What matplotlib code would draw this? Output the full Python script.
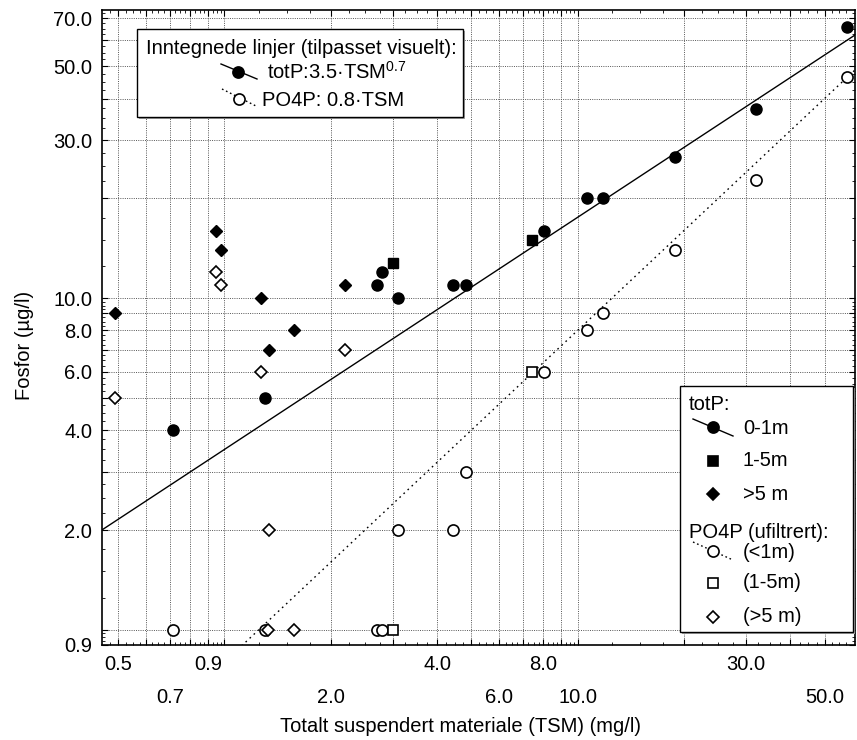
import matplotlib
matplotlib.use("Agg")
import matplotlib.pyplot as plt
import numpy as np
from matplotlib.lines import Line2D
from matplotlib.patches import Rectangle
from matplotlib.ticker import FixedLocator, FuncFormatter, NullFormatter

plt.rcParams["font.family"] = ["Liberation Sans", "DejaVu Sans"]
plt.rcParams["mathtext.fontset"] = "custom"
plt.rcParams["mathtext.rm"] = "Liberation Sans"

FS = 14.5

# TSM (mg/l) and phosphorus (µg/l), grouped by sampling depth
tsm_0_1 = [0.717, 1.30, 2.70, 2.80, 3.09, 4.45, 4.82, 8.01, 10.6, 11.8, 18.9, 31.9, 57.8]
totp_0_1 = [4.0, 5.0, 11.0, 12.0, 10.0, 11.0, 11.0, 16.0, 20.0, 20.0, 26.6, 37.3, 65.9]
po4p_0_1 = [1.0, 1.0, 1.0, 1.0, 2.0, 2.0, 3.0, 6.0, 8.0, 9.0, 14.0, 22.7, 46.4]

tsm_1_5 = [3.01, 7.41]
totp_1_5 = [12.8, 15.0]
po4p_1_5 = [1.0, 6.0]

tsm_5_totp = [0.491, 0.949, 0.98, 1.265, 1.34, 1.57, 2.19]
totp_5 = [9.0, 16.0, 14.0, 10.0, 7.0, 8.0, 11.0]
tsm_5_po4p = [0.491, 0.949, 0.98, 1.265, 1.33, 1.34, 1.57, 2.19]
po4p_5 = [5.0, 12.0, 11.0, 6.0, 1.0, 2.0, 1.0, 7.0]

# visually fitted lines (from legend): totP = 3.5*TSM^0.7, PO4P = 0.8*TSM
totp_coef, totp_exp = 3.5, 0.7
po4p_coef = 0.8

# axes setup
x_lim = (0.45, 61.0)
y_lim = (0.9, 74.0)
x_grid = [0.5, 0.6, 0.7, 0.8, 0.9, 1, 2, 3, 4, 5, 6, 7, 8, 9, 10, 20, 30, 40, 50]
y_grid = [1, 2, 3, 4, 5, 6, 7, 8, 9, 10, 20, 30, 40, 50, 60, 70]
x_labels_row1 = [0.5, 0.9, 4, 8, 30]
x_labels_row2 = [0.7, 2, 6, 10, 50]
y_labels = [0.9, 2, 4, 6, 8, 10, 30, 50, 70]

fig = plt.figure(figsize=(8.57, 7.40), dpi=100)
L, R, T, B = 102, 855, 10, 645
W, H = 857, 740
ax = fig.add_axes([L / W, 1 - B / H, (R - L) / W, (B - T) / H])
ax.set_xscale("log")
ax.set_yscale("log")
ax.set_xlim(*x_lim)
ax.set_ylim(*y_lim)

# fitted lines
xx = np.geomspace(x_lim[0], x_lim[1], 200)
ax.plot(xx, totp_coef * xx ** totp_exp, color="black", lw=1.0, zorder=3)
ax.plot(xx, po4p_coef * xx, color="black", lw=1.0, ls=(0, (1.2, 2.8)), zorder=3)

# data
kw_open = dict(ls="none", mfc="white", mec="black", mew=1.2, zorder=4)
kw_fill = dict(ls="none", mfc="black", mec="black", zorder=5)
ax.plot(tsm_0_1, po4p_0_1, marker="o", ms=8, **kw_open)
ax.plot(tsm_1_5, po4p_1_5, marker="s", ms=7, **kw_open)
ax.plot(tsm_5_po4p, po4p_5, marker="D", ms=6.5, **kw_open)
ax.plot(tsm_0_1, totp_0_1, marker="o", ms=8, **kw_fill)
ax.plot(tsm_1_5, totp_1_5, marker="s", ms=7.5, **kw_fill)
ax.plot(tsm_5_totp, totp_5, marker="D", ms=5.8, **kw_fill)

# ticks / grid
def minor_vals(lo, hi):
    out = []
    for d in (0.1, 1, 10, 100):
        for k in np.arange(1, 10, 0.25):
            v = d * k
            if lo < v < hi and abs(k - round(k)) > 1e-9:
                out.append(v)
    return out

ax.xaxis.set_major_locator(FixedLocator(x_grid))
ax.yaxis.set_major_locator(FixedLocator(sorted(set(y_grid + y_labels))))
ax.xaxis.set_minor_locator(FixedLocator(minor_vals(*x_lim)))
ax.yaxis.set_minor_locator(FixedLocator(minor_vals(*y_lim)))
ax.xaxis.set_minor_formatter(NullFormatter())
ax.yaxis.set_minor_formatter(NullFormatter())


def fmt_x(v, pos):
    for lab in x_labels_row1:
        if abs(v - lab) < 1e-9:
            return f"{lab:.1f}"
    for lab in x_labels_row2:
        if abs(v - lab) < 1e-9:
            return f"\n{lab:.1f}"
    return ""


def fmt_y(v, pos):
    for lab in y_labels:
        if abs(v - lab) < 1e-9:
            return f"{lab:.1f}"
    return ""


ax.xaxis.set_major_formatter(FuncFormatter(fmt_x))
ax.yaxis.set_major_formatter(FuncFormatter(fmt_y))
ax.tick_params(which="both", direction="in", top=True, right=True, color="black")
ax.tick_params(which="major", length=4, width=0.8, labelsize=FS)
ax.tick_params(which="minor", length=2.5, width=0.6)
ax.tick_params(axis="x", which="major", pad=7)
ax.tick_params(axis="y", which="major", pad=7)
for t in ax.get_xticklabels():
    t.set_linespacing(1.95)

ax.grid(True, which="major", color="#555555", lw=0.7, ls=(0, (1, 1.3)))
ax.set_axisbelow(True)
for s in ax.spines.values():
    s.set_color("black")
    s.set_linewidth(1.2)

fig.text(460 / W, 1 - 726 / H, "Totalt suspendert materiale (TSM) (mg/l)",
         ha="center", va="center", fontsize=FS)
fig.text(24 / W, 1 - 345 / H, "Fosfor (µg/l)", rotation=90,
         ha="center", va="center", fontsize=FS)


# hand-placed legends (pixel layout -> axes fraction)
def pa(px, py):
    return (px - L) / (R - L), (B - py) / (B - T)


def box(x0, y0, x1, y1):
    ax0, ay1 = pa(x0, y0)
    ax1, ay0 = pa(x1, y1)
    sh = Rectangle((ax0 + 0.002, ay0 - 0.003), ax1 - ax0, ay1 - ay0, transform=ax.transAxes,
                   facecolor="#a0a0a0", edgecolor="none", zorder=8, clip_on=False)
    ax.add_patch(sh)
    r = Rectangle((ax0, ay0), ax1 - ax0, ay1 - ay0, transform=ax.transAxes,
                  facecolor="white", edgecolor="black", lw=1.0, zorder=9, clip_on=False)
    ax.add_patch(r)


def txt(px, py, s):
    x, y = pa(px, py)
    ax.text(x, y, s, transform=ax.transAxes, ha="left", va="center",
            fontsize=FS, zorder=11)


def sample(p0, p1, ls):
    (x0, y0), (x1, y1) = pa(*p0), pa(*p1)
    ax.add_line(Line2D([x0, x1], [y0, y1], transform=ax.transAxes, color="black",
                       lw=1.0, ls=ls, zorder=10, clip_on=False))


def mark(px, py, m, ms, filled):
    x, y = pa(px, py)
    ax.add_line(Line2D([x], [y], transform=ax.transAxes, marker=m, ms=ms, ls="none",
                       mfc="black" if filled else "white", mec="black",
                       mew=1.2, zorder=11, clip_on=False))


box(137, 29, 463, 117)
txt(146, 48, "Inntegnede linjer (tilpasset visuelt):")
sample((221, 64), (257, 79), "-")
mark(238, 72, "o", 8, True)
txt(267, 72, r"totP:3.5·TSM$^{\mathrm{0.7}}$")
sample((222, 89), (256, 106), (0, (1.2, 2.0)))
mark(239, 99, "o", 8, False)
txt(262, 100, "PO4P: 0.8·TSM")

box(680, 386, 853, 632)
txt(689, 405, "totP:")
sample((693, 419), (733, 436), "-")
mark(713, 427, "o", 8, True)
txt(743, 429, "0-1m")
mark(713, 461, "s", 7.5, True)
txt(743, 461, "1-5m")
mark(713, 494, "D", 5.8, True)
txt(743, 494, ">5 m")
txt(689, 533, "PO4P (ufiltrert):")
sample((693, 542), (733, 560), (0, (1.2, 2.0)))
mark(713, 551, "o", 8, False)
txt(743, 553, "(<1m)")
mark(713, 583, "s", 7, False)
txt(743, 582, "(1-5m)")
mark(713, 617, "D", 6.5, False)
txt(743, 617, "(>5 m)")

fig.savefig("out.png", dpi=100)
